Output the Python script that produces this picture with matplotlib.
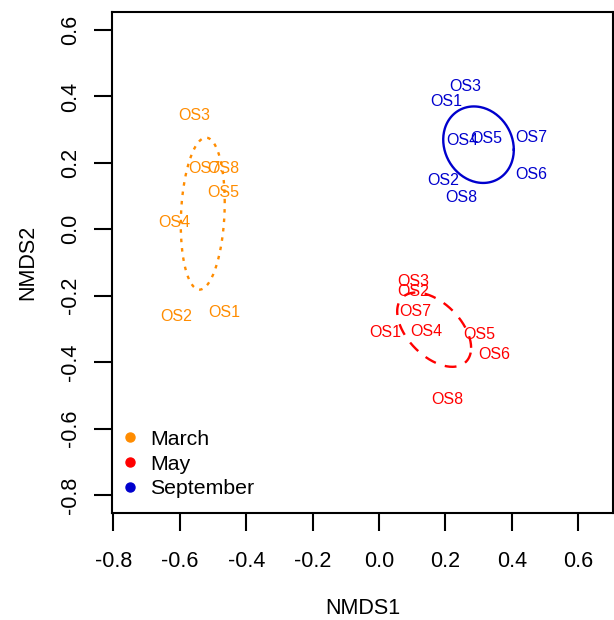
import numpy as np
import matplotlib
matplotlib.use("Agg")
import matplotlib.pyplot as plt
from matplotlib.lines import Line2D

plt.rcParams['font.family'] = ['Liberation Sans', 'DejaVu Sans']

# site scores
march_labels = ["OS3", "OS7", "OS8", "OS5", "OS4", "OS2", "OS1"]
march_x = [-0.557, -0.526, -0.469, -0.469, -0.616, -0.612, -0.467]
march_y = [0.344, 0.184, 0.184, 0.110, 0.021, -0.261, -0.251]

may_labels = ["OS3", "OS2", "OS7", "OS1", "OS4", "OS5", "OS6", "OS8"]
may_x = [0.102, 0.102, 0.108, 0.018, 0.144, 0.302, 0.347, 0.206]
may_y = [-0.156, -0.188, -0.246, -0.311, -0.308, -0.318, -0.377, -0.512]

sep_labels = ["OS3", "OS1", "OS4", "OS5", "OS7", "OS6", "OS2", "OS8"]
sep_x = [0.259, 0.202, 0.252, 0.322, 0.460, 0.460, 0.194, 0.249]
sep_y = [0.429, 0.384, 0.267, 0.274, 0.276, 0.166, 0.148, 0.095]

ticks = [-0.8, -0.6, -0.4, -0.2, 0.0, 0.2, 0.4, 0.6]
tick_labels = ["-0.8", "-0.6", "-0.4", "-0.2", "0.0", "0.2", "0.4", "0.6"]

col_march = "#FF8C00"
col_may = "#FF0000"
col_sep = "#0000CD"


def sd_ellipse(x, y, n=200):
    # like vegan ordiellipse(kind="sd")
    pts = np.column_stack([x, y])
    centre = pts.mean(axis=0)
    L = np.linalg.cholesky(np.cov(pts, rowvar=False))
    t = np.linspace(0, 2 * np.pi, n)
    circ = np.vstack([np.cos(t), np.sin(t)])
    e = (L @ circ).T + centre
    return e[:, 0], e[:, 1]


fig = plt.figure(figsize=(6.14, 6.2), dpi=100)
ax = fig.add_axes([0.182, 0.172, 0.817, 0.809])

groups = [
    (march_labels, march_x, march_y, col_march, (0, (1.5, 2.5))),
    (may_labels, may_x, may_y, col_may, (0, (5, 4))),
    (sep_labels, sep_x, sep_y, col_sep, "-"),
]
for labs, xs, ys, col, ls in groups:
    for lab, x, y in zip(labs, xs, ys):
        ax.text(x, y, lab, color=col, fontsize=11.5, ha="center", va="center")
    ex, ey = sd_ellipse(xs, ys)
    ax.plot(ex, ey, color=col, linestyle=ls, lw=1.7)

ax.set_xlim(-0.805, 0.706)
ax.set_ylim(-0.855, 0.655)
ax.set_xticks(ticks)
ax.set_yticks(ticks)
ax.set_xticklabels(tick_labels)
ax.set_yticklabels(tick_labels, rotation=90, va="center")
ax.tick_params(direction="out", length=13, width=1.5, labelsize=15.5)
ax.tick_params(axis="x", pad=14)
ax.tick_params(axis="y", pad=9)
for s in ax.spines.values():
    s.set_linewidth(1.5)

ax.set_xlabel("NMDS1", fontsize=15.5, labelpad=19)
ax.set_ylabel("NMDS2", fontsize=15.5, labelpad=16)

handles = [Line2D([], [], marker="o", linestyle="", color=c, markersize=6.5)
           for c in (col_march, col_may, col_sep)]
ax.legend(handles, ["March", "May", "September"], loc="lower left",
          bbox_to_anchor=(-0.01, -0.008), frameon=False, fontsize=15.3,
          handlelength=0.4, handletextpad=0.74, labelspacing=0.27,
          borderaxespad=0.5)

fig.savefig("out.png", dpi=100)
